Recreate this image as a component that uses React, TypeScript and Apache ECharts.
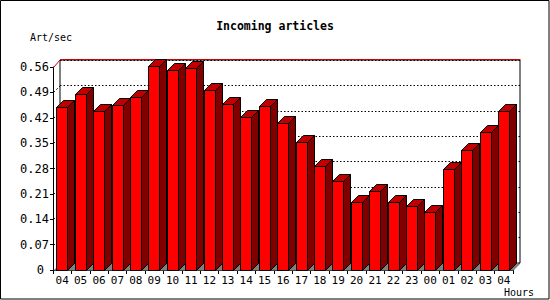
import React, { useEffect, useRef } from "react";
import * as echarts from "echarts";

const hours = ["04","05","06","07","08","09","10","11","12","13","14","15","16","17","18","19","20","21","22","23","00","01","02","03","04"];
const artPerSec = [0.449,0.485,0.438,0.454,0.476,0.562,0.551,0.556,0.497,0.457,0.422,0.452,0.405,0.352,0.286,0.245,0.187,0.217,0.187,0.176,0.159,0.278,0.330,0.380,0.440];
const yTicks = [0, 0.07, 0.14, 0.21, 0.28, 0.35, 0.42, 0.49, 0.56];
const yMax = 0.56;
const yStep = 0.07;

const MONO = "'DejaVu Sans Mono', 'Liberation Mono', monospace";
const DEPTH = 7;

export default function App() {
  const ref = useRef<HTMLDivElement>(null);
  useEffect(() => {
    if (!ref.current) return;
    const chart = echarts.init(ref.current, undefined, { renderer: "svg" });
    const option: any = {
      animation: false,
      backgroundColor: "#ffffff",
      title: {
        text: "Incoming articles",
        left: "center",
        top: 15,
        textStyle: { fontFamily: MONO, fontSize: 11.5, fontWeight: "bold", color: "#000" },
      },
      grid: [
        { left: 53, right: 37, top: 67, bottom: 30 },
        { left: 60, right: 30, top: 60, bottom: 37, show: true, backgroundColor: "#fff", borderColor: "#000", borderWidth: 1 },
      ],
      xAxis: [
        {
          type: "category",
          gridIndex: 0,
          data: hours,
          axisLine: { show: true, lineStyle: { color: "#000", width: 1 } },
          axisTick: { show: true, length: 4, lineStyle: { color: "#000" } },
          axisLabel: { color: "#000", fontFamily: MONO, fontSize: 11, margin: 5, interval: 0 },
        },
        { type: "category", gridIndex: 1, data: hours, show: false },
      ],
      yAxis: [
        {
          type: "value",
          gridIndex: 0,
          min: 0,
          max: yMax,
          interval: yStep,
          axisLine: { show: true, lineStyle: { color: "#000", width: 1 } },
          axisTick: { show: true, length: 3, lineStyle: { color: "#000" } },
          splitLine: { show: false },
          axisLabel: {
            color: "#000",
            fontFamily: MONO,
            fontSize: 12,
            margin: 4,
            formatter: (v: number) => (v === 0 ? "{z|0}" : v.toFixed(2)),
            rich: { z: { fontFamily: MONO, fontSize: 12, color: "#000", padding: [0, 5, 0, 0] } },
          },
        },
        {
          type: "value",
          gridIndex: 1,
          min: 0,
          max: yMax,
          interval: yStep,
          axisLine: { show: false },
          axisTick: { show: false },
          axisLabel: { show: false },
          splitLine: { show: true, lineStyle: { color: "#000", type: [1.5, 2], width: 1 } },
        },
      ],
      series: [
        {
          type: "custom",
          name: "frame",
          xAxisIndex: 0,
          yAxisIndex: 0,
          z: 1,
          silent: true,
          data: yTicks.map((v) => [0, v]),
          renderItem: (params: any, api: any) => {
            const cs = params.coordSys;
            const v = api.value(1);
            const y = Math.round(api.coord([0, v])[1]) + 0.5;
            const x0 = Math.round(cs.x) + 0.5;
            const w = cs.width;
            if (v >= yMax - 1e-9) {
              return {
                type: "polyline",
                shape: { points: [[x0, y], [x0 + DEPTH, y - DEPTH - 1], [x0 + w + DEPTH, y - DEPTH - 1]] },
                style: { stroke: "#d00000", lineWidth: 1, fill: "none" },
              };
            }
            if (v === 0) {
              return {
                type: "polygon",
                shape: { points: [[x0, y], [x0 + DEPTH, y - DEPTH], [x0 + w + DEPTH, y - DEPTH], [x0 + w, y]] },
                style: { fill: "#808080", stroke: "none" },
              };
            }
            return {
              type: "line",
              shape: { x1: x0, y1: y, x2: x0 + DEPTH, y2: y - DEPTH },
              style: { stroke: "#000", lineWidth: 1, lineDash: [2, 2] },
            };
          },
        },
        {
          type: "custom",
          name: "Art/sec",
          xAxisIndex: 0,
          yAxisIndex: 0,
          z: 2,
          data: artPerSec.map((v, i) => [i, v]),
          renderItem: (params: any, api: any) => {
            const i = api.value(0);
            const v = api.value(1);
            const top = api.coord([i, v]);
            const base = api.coord([i, 0]);
            const bw = api.size([1, 0])[0];
            const fw = Math.round(bw * 0.6);
            const l = Math.round(top[0] - bw / 2 + 3.3) + 0.5;
            const r = l + fw;
            const t = Math.round(top[1]) + 0.5;
            const b = Math.round(base[1]) + 0.5;
            const d = DEPTH;
            const stroke = { stroke: "#000", lineWidth: 1 };
            return {
              type: "group",
              children: [
                {
                  type: "polygon",
                  shape: { points: [[r, t], [r + d, t - d], [r + d, b - d], [r, b]] },
                  style: { fill: "#800000", ...stroke },
                },
                {
                  type: "polygon",
                  shape: { points: [[l, t], [l + d, t - d], [r + d, t - d], [r, t]] },
                  style: { fill: "#c00000", ...stroke },
                },
                {
                  type: "rect",
                  shape: { x: l, y: t, width: fw, height: b - t },
                  style: { fill: "#ff0000", ...stroke },
                },
              ],
            };
          },
        },
      ],
      graphic: [
        {
          type: "rect",
          silent: true,
          z: 100,
          shape: { x: 0.5, y: 0.5, width: 548.5, height: 298.5 },
          style: { fill: "none", stroke: "#000", lineWidth: 1 },
        },
        {
          type: "text",
          x: 30,
          y: 37,
          style: { text: "Art/sec", font: `10px ${MONO}`, fill: "#000", verticalAlign: "middle", align: "left" },
        },
        {
          type: "text",
          x: 504,
          y: 292,
          style: { text: "Hours", font: `10px ${MONO}`, fill: "#000", verticalAlign: "middle", align: "left" },
        },
      ],
    };
    chart.setOption(option);
    return () => chart.dispose();
  }, []);
  return (
    <div
      ref={ref}
      style={{ position: "fixed", left: 0, top: 0, width: 550, height: 300, background: "#fff" }}
    />
  );
}
